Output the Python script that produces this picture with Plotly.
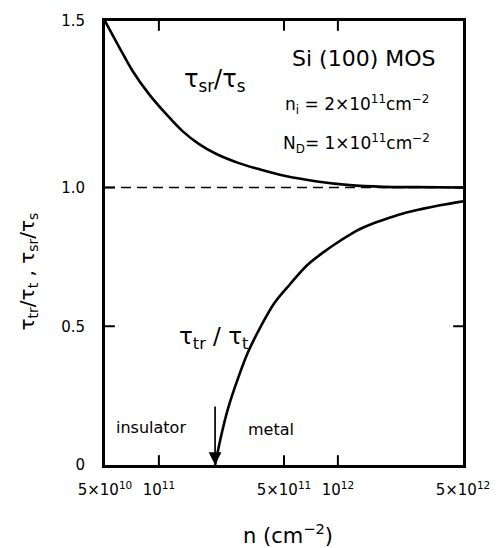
import math
import plotly.graph_objects as go

# Carrier density n (cm^-2) and the two lifetime ratios
n_sr = [5.0e10, 6.05e10, 7.13e10, 8.85e10, 1.10e11, 1.35e11, 1.67e11, 2.07e11,
        2.77e11, 3.57e11, 5.03e11, 7.66e11, 1.16e12, 1.79e12, 2.72e12, 5.0e12]
ratio_sr = [1.500, 1.418, 1.350, 1.279, 1.220, 1.170, 1.131, 1.102,
            1.074, 1.056, 1.035, 1.018, 1.007, 1.002, 1.001, 1.000]

n_tr = [2.06e11, 2.24e11, 2.44e11, 2.77e11, 3.15e11, 3.73e11, 4.42e11, 5.46e11,
        6.73e11, 8.32e11, 1.03e12, 1.27e12, 1.57e12, 1.94e12, 2.39e12, 2.96e12,
        3.66e12, 5.0e12]
ratio_tr = [0.0, 0.112, 0.206, 0.313, 0.407, 0.502, 0.584, 0.655,
            0.720, 0.767, 0.808, 0.844, 0.870, 0.891, 0.909, 0.923,
            0.935, 0.950]

n_c = 2.06e11  # metal-insulator transition density

x_tick_vals = [5e10, 1e11, 5e11, 1e12, 5e12]
x_tick_text = ["5×10<sup>10</sup>", "10<sup>11</sup>", "5×10<sup>11</sup>",
               "10<sup>12</sup>", "5×10<sup>12</sup>"]
y_tick_vals = [0.0, 0.5, 1.0, 1.5]
y_tick_text = ["0", "0.5", "1.0", "1.5"]

# The ordinate is drawn with a wider step above 1.0 than below it
UPPER_STRETCH = 1.2


def axis_y(v):
    return v if v <= 1.0 else 1.0 + (v - 1.0) * UPPER_STRETCH


FONT = "DejaVu Sans"
LW = 2.6
PLOT_W, PLOT_H = 363, 452
TICK_LEN = 10

X_LOG_RANGE = [math.log10(x_tick_vals[0]), math.log10(x_tick_vals[-1])]
Y_RANGE = [0, axis_y(1.5)]


def x_frac(v):
    """Position of a density along the log axis, as a fraction of its width."""
    return (math.log10(v) - X_LOG_RANGE[0]) / (X_LOG_RANGE[1] - X_LOG_RANGE[0])


def y_frac(v):
    return (axis_y(v) - Y_RANGE[0]) / (Y_RANGE[1] - Y_RANGE[0])


fig = go.Figure()
fig.add_trace(go.Scatter(x=[x_tick_vals[0], x_tick_vals[-1]], y=[axis_y(1.0)] * 2,
                         mode="lines", line=dict(color="black", width=1.6, dash="10px,6px"),
                         hoverinfo="skip"))
fig.add_trace(go.Scatter(x=n_sr, y=[axis_y(v) for v in ratio_sr], mode="lines",
                         line=dict(color="black", width=LW, shape="spline", smoothing=1.0)))
fig.add_trace(go.Scatter(x=n_tr, y=[axis_y(v) for v in ratio_tr], mode="lines",
                         line=dict(color="black", width=LW, shape="spline", smoothing=1.0)))

# Inward tick marks on all four sides of the frame, at the axis tick values
tick_line = dict(color="black", width=2)
shapes = []
for v in x_tick_vals[1:-1]:
    fx = x_frac(v)
    shapes.append(dict(type="line", xref="paper", yref="paper", x0=fx, x1=fx,
                       y0=0, y1=TICK_LEN / PLOT_H, line=tick_line))
    shapes.append(dict(type="line", xref="paper", yref="paper", x0=fx, x1=fx,
                       y0=1, y1=1 - TICK_LEN / PLOT_H, line=tick_line))
for v in y_tick_vals[1:-1]:
    fy = y_frac(v)
    shapes.append(dict(type="line", xref="paper", yref="paper", x0=0, x1=TICK_LEN / PLOT_W,
                       y0=fy, y1=fy, line=tick_line))
    shapes.append(dict(type="line", xref="paper", yref="paper", x0=1, x1=1 - TICK_LEN / PLOT_W,
                       y0=fy, y1=fy, line=tick_line))

ann = []


def label(text, x, y, size, **kw):
    ann.append(dict(text=text, x=x, y=y, xref="paper", yref="paper", showarrow=False,
                    xanchor="center", yanchor="middle",
                    font=dict(family=FONT, size=size, color="black"), **kw))


label("τ<sub>sr</sub>/τ<sub>s</sub>", 0.306, 0.866, 24)
label("τ<sub>tr</sub> / τ<sub>t</sub>", 0.303, 0.285, 23)
label("Si (100) MOS", 0.722, 0.916, 22)
label("n<sub>i</sub> = 2×10<sup>11</sup>cm<sup>−2</sup>", 0.705, 0.812, 17)
label("N<sub>D</sub>= 1×10<sup>11</sup>cm<sup>−2</sup>", 0.703, 0.723, 17)
label("insulator", 0.129, 0.084, 16)
label("metal", 0.463, 0.080, 16)
label("τ<sub>tr</sub>/τ<sub>t</sub> , τ<sub>sr</sub>/τ<sub>s</sub>", -0.215, 0.436, 20,
      textangle=-90)
label("n (cm<sup>−2</sup>)", 0.51, -0.155, 21)

# Arrow marking the transition density
ann.append(dict(x=math.log10(n_c), y=0, xref="x", yref="y", ax=0, ay=-60, showarrow=True,
                arrowhead=2, arrowsize=1.5, arrowwidth=1.7, arrowcolor="black", text=""))

fig.update_layout(
    width=502, height=548,
    margin=dict(l=105, r=34, t=13, b=83),
    paper_bgcolor="white", plot_bgcolor="white",
    showlegend=False,
    annotations=ann,
    shapes=shapes,
    font=dict(family=FONT, color="black"),
)
fig.update_xaxes(type="log", range=X_LOG_RANGE,
                 tickmode="array", tickvals=x_tick_vals, ticktext=x_tick_text,
                 ticks="", showline=True, linewidth=2.8, linecolor="black", mirror=True,
                 showgrid=False, zeroline=False, ticklabelstandoff=9,
                 tickfont=dict(family=FONT, size=15, color="black"))
fig.update_yaxes(range=Y_RANGE,
                 tickmode="array", tickvals=[axis_y(v) for v in y_tick_vals],
                 ticktext=y_tick_text,
                 ticks="", showline=True, linewidth=2.8, linecolor="black", mirror=True,
                 showgrid=False, zeroline=False, ticklabelstandoff=14,
                 tickfont=dict(family=FONT, size=15, color="black"))

fig.write_html("out.html")
